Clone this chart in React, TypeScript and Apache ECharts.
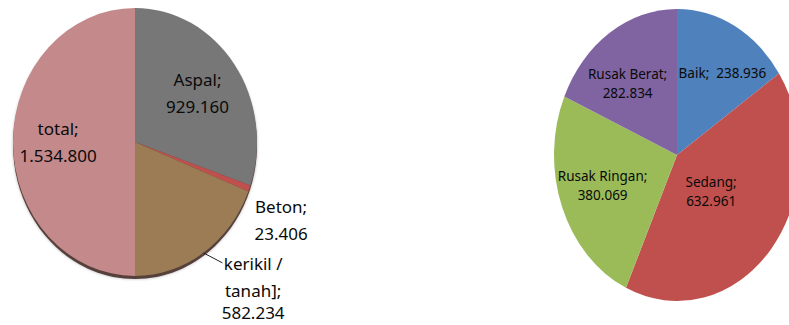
import React, { useEffect, useRef } from "react";
import * as echarts from "echarts";

// ---- Data ----
const materialNames = ["Aspal", "Beton", "kerikil /\ntanah]", "total"];
const materialValues = [929160, 23406, 582234, 1534800];

const conditionNames = ["Baik", "Sedang", "Rusak Ringan", "Rusak Berat"];
const conditionValues = [238936, 632961, 380069, 282834];

// ---- Styles / layout (not data) ----
const materialColors = ["#777777", "#C0504D", "#9B7C54", "#C4898A"];
const conditionColors = ["#4F81BD", "#C0504D", "#9BBB59", "#8064A2"];
const materialLabelShift = [[0, 0], [74, 49], [75, 74], [0, 0]];
const conditionLabelShift = [[9, -1], [-25, -23], [-2, -2], [-7, 5]];
const materialSep = ["\n", "\n", "\n", "\n"];
const conditionSep = ["  ", "\n", "\n", "\n"];
const materialLeader = [null, null, [19, 10], null];
const conditionLeader = [null, null, null, null];
const materialTightLast = [false, false, true, false];
const conditionTightLast = [false, false, false, false];

const fmt = (n: number) => String(n).replace(/\B(?=(\d{3})+(?!\d))/g, ".");

function makeRenderItem(
  values: number[],
  names: string[],
  colors: string[],
  geom: { cx: number; cy: number; rx: number; ry: number },
  shifts: number[][],
  seps: string[],
  leaders: (number[] | null)[],
  tightLast: boolean[],
  fontSize: number,
  lineHeight: number
) {
  const total = values.reduce((a, b) => a + b, 0);
  const cum: number[] = [];
  let acc = 0;
  values.forEach((v) => {
    cum.push(acc);
    acc += v;
  });
  return (params: any, api: any) => {
    const i = params.dataIndex;
    const v = api.value(1);
    const start = -Math.PI / 2 + (cum[i] / total) * 2 * Math.PI;
    const end = start + (v / total) * 2 * Math.PI;
    const mid = (start + end) / 2;
    const { cx, cy, rx, ry } = geom;
    const children: any[] = [
      {
        type: "sector",
        shape: { cx, cy, r: rx, r0: 0, startAngle: start, endAngle: end, clockwise: true },
        scaleY: ry / rx,
        originX: cx,
        originY: cy,
        style: { fill: colors[i] },
      },
    ];
    const lx = cx + 0.63 * rx * Math.cos(mid) + shifts[i][0];
    const ly = cy + 0.63 * ry * Math.sin(mid) + shifts[i][1];
    const raw = names[i] + ";" + seps[i] + fmt(values[i]);
    const lines = raw.split("\n");
    const text = lines
      .map((ln, k) => (tightLast[i] && k === lines.length - 1 ? `{e|${ln}}` : `{l|${ln}}`))
      .join("\n");
    const base = { fontSize, fontFamily: "Noto Sans", fill: "#0a0a0a" };
    children.push({
      type: "text",
      x: lx,
      y: ly,
      z2: 10,
      style: {
        text,
        fill: "#0a0a0a",
        fontSize,
        fontFamily: "Noto Sans",
        lineHeight,
        rich: {
          l: { ...base, lineHeight },
          e: { ...base, lineHeight: fontSize },
        },
        align: "center",
        verticalAlign: "middle",
        textAlign: "center",
        textVerticalAlign: "middle",
      },
    });
    const ld = leaders[i];
    if (ld) {
      const ex = cx + rx * Math.cos(mid);
      const ey = cy + ry * Math.sin(mid);
      children.push({
        type: "polyline",
        z2: 10,
        shape: { points: [[ex, ey], [ex + ld[0], ey + ld[1]]] },
        style: { stroke: "#222222", lineWidth: 1, fill: null },
      });
    }
    return { type: "group", children };
  };
}

export default function App() {
  const ref = useRef<HTMLDivElement>(null);
  useEffect(() => {
    if (!ref.current) return;
    const chart = echarts.init(ref.current, null, { renderer: "svg" });
    const leftGeom = { cx: 135, cy: 142, rx: 122, ry: 134 };
    const rightGeom = { cx: 677, cy: 155, rx: 123, ry: 146 };
    chart.setOption({
      animation: false,
      backgroundColor: "#ffffff",
      graphic: [
        {
          type: "ellipse",
          z: 0,
          shape: { cx: 135, cy: 145, rx: 122, ry: 134 },
          style: { fill: "#553f3a", shadowBlur: 3, shadowColor: "rgba(0,0,0,0.3)" },
        },
      ],
      series: [
        {
          type: "custom",
          coordinateSystem: "none",
          z: 2,
          data: materialValues.map((v, i) => [i, v]),
          renderItem: makeRenderItem(
            materialValues,
            materialNames,
            materialColors,
            leftGeom,
            materialLabelShift,
            materialSep,
            materialLeader,
            materialTightLast,
            17,
            27
          ),
        },
        {
          type: "custom",
          coordinateSystem: "none",
          z: 2,
          data: conditionValues.map((v, i) => [i, v]),
          renderItem: makeRenderItem(
            conditionValues,
            conditionNames,
            conditionColors,
            rightGeom,
            conditionLabelShift,
            conditionSep,
            conditionLeader,
            conditionTightLast,
            13.5,
            19
          ),
        },
      ],
    });
    return () => chart.dispose();
  }, []);
  return (
    <div
      ref={ref}
      style={{ position: "absolute", left: 0, top: 0, width: 789, height: 325 }}
    />
  );
}
